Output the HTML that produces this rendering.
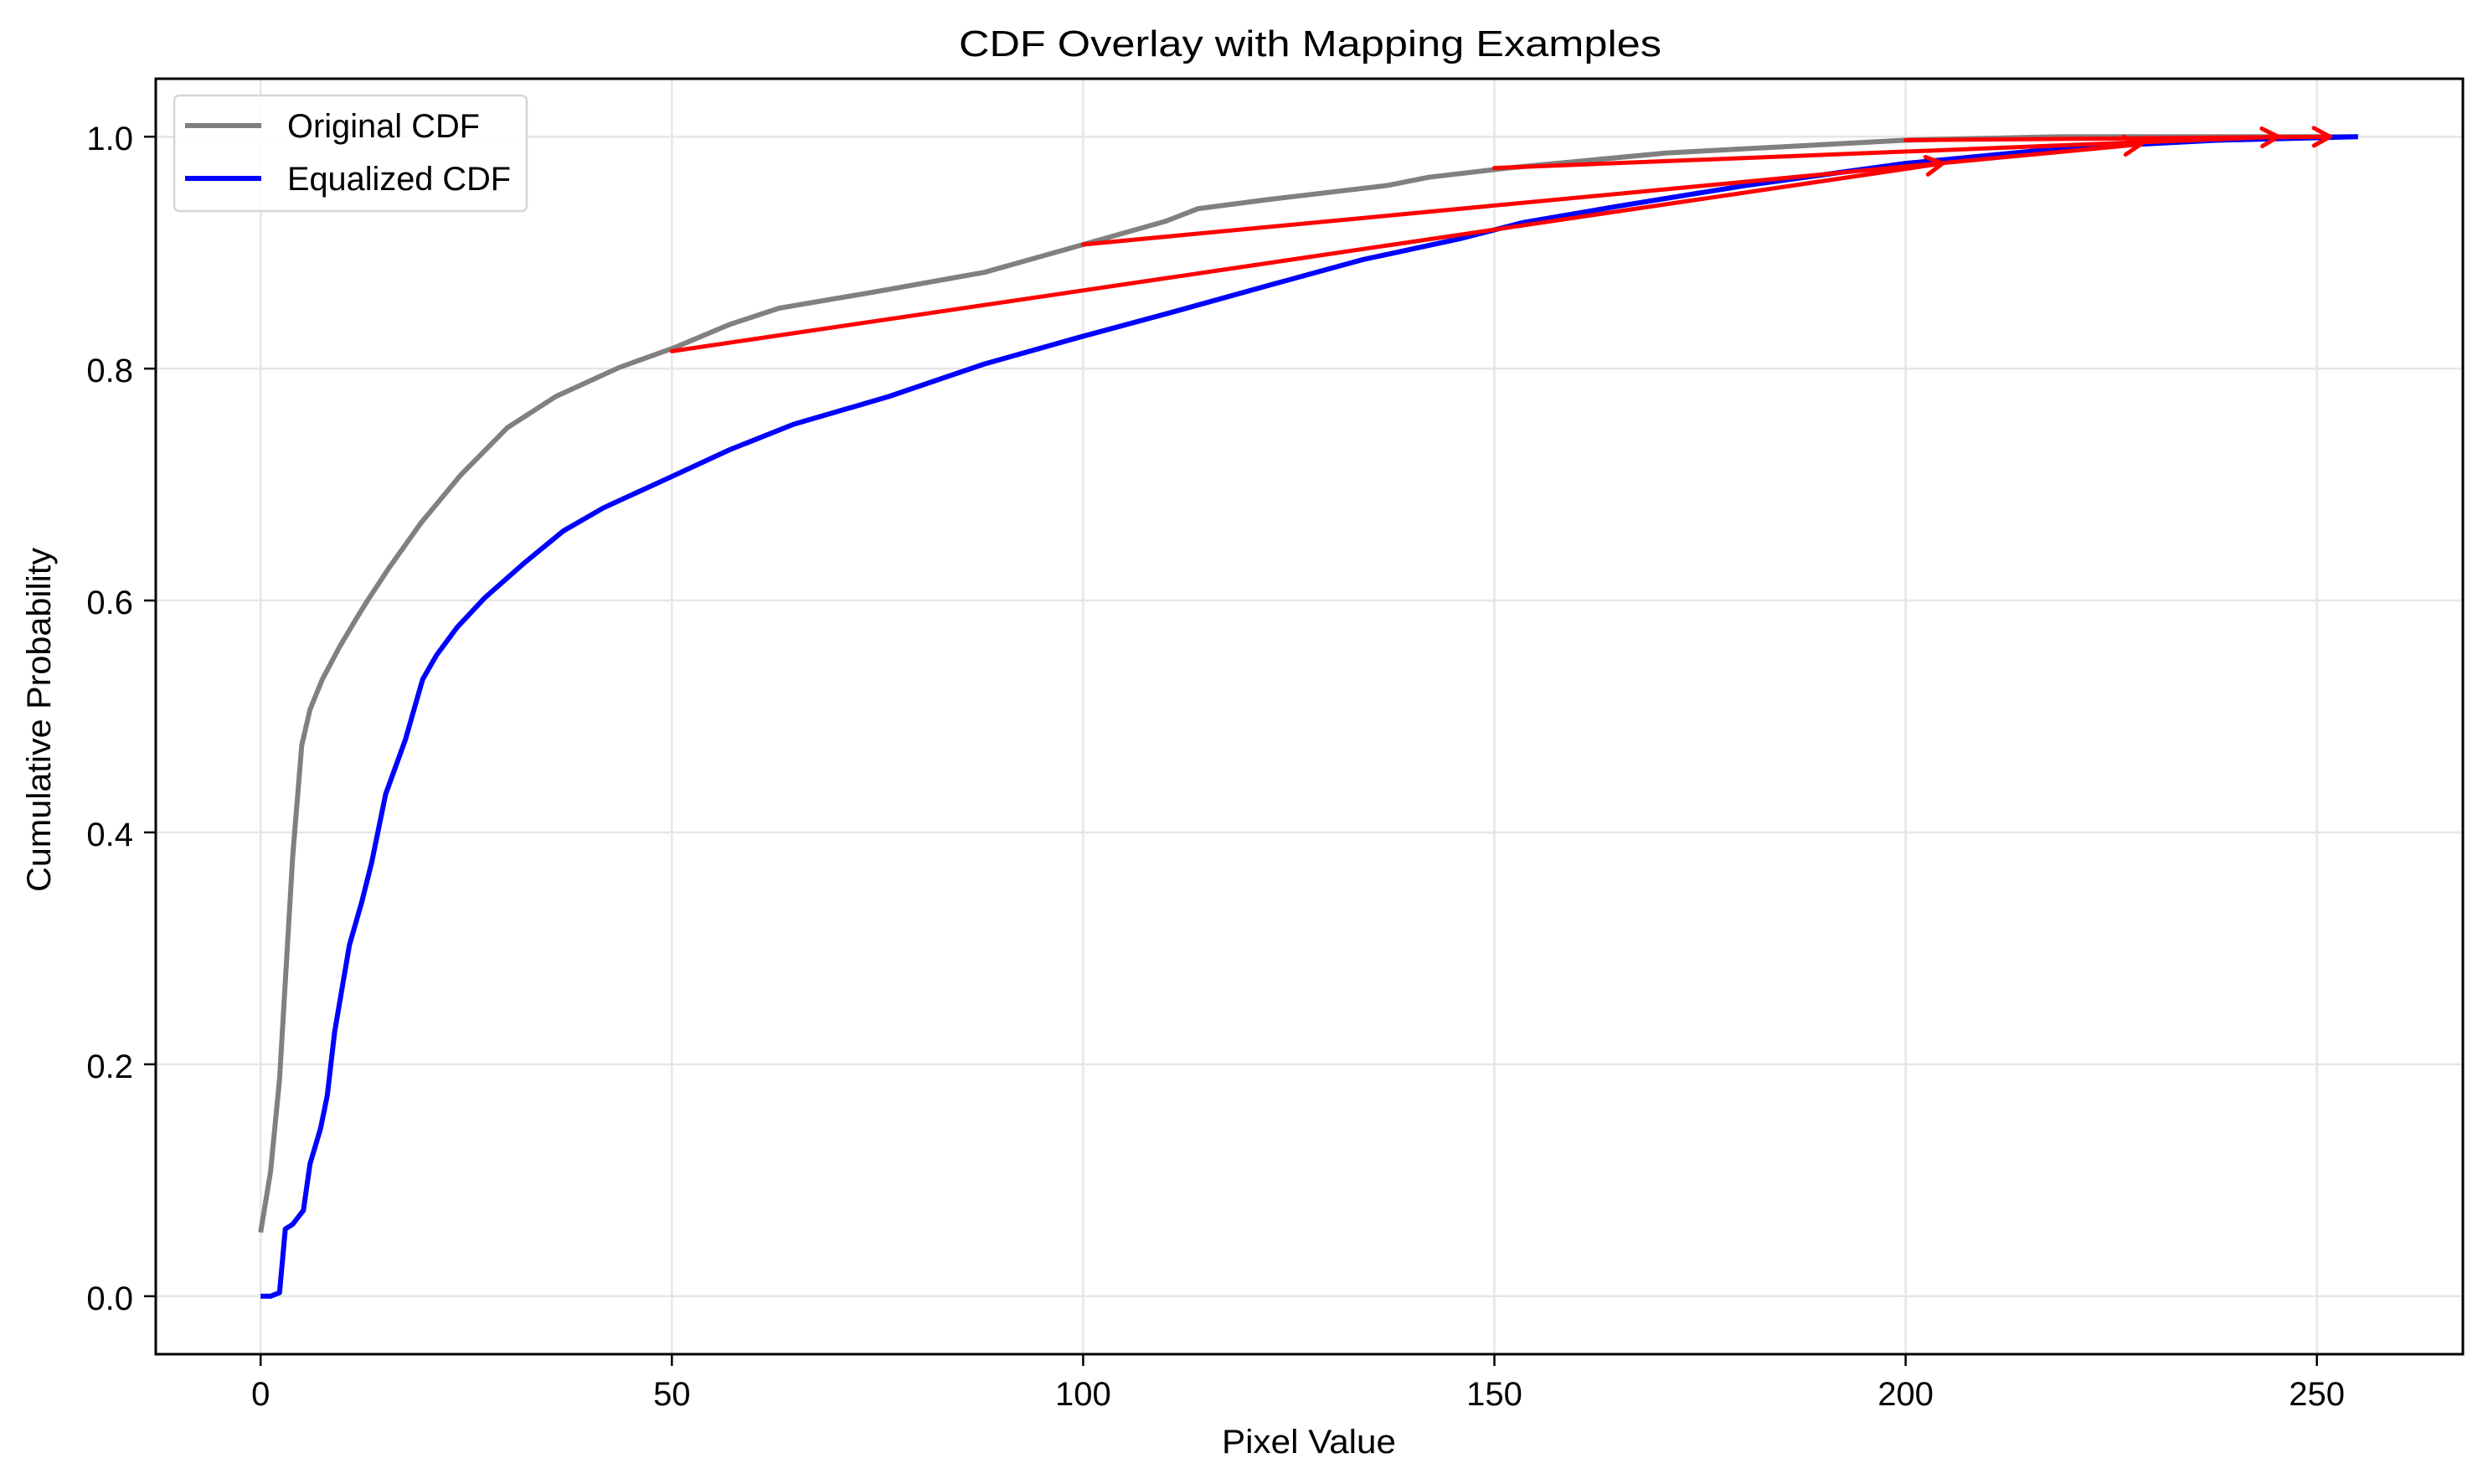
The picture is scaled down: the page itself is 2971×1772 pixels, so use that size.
<!DOCTYPE html>
<html><head><meta charset="utf-8"><style>
html,body{margin:0;padding:0;background:#fff;}
svg{display:block;font-family:"Liberation Sans","DejaVu Sans",sans-serif;}
</style></head><body>
<svg id="chart" width="2971" height="1772" viewBox="0 0 2971 1772" xmlns="http://www.w3.org/2000/svg">
<rect width="2971" height="1772" fill="#fff"/>
<g id="grid"></g>
<g id="series"></g>
<g id="ticks"></g>
<rect x="186" y="94" width="2755" height="1523" fill="none" stroke="#000" stroke-width="3"/>
<text x="1145" y="67" font-size="44" textLength="839" lengthAdjust="spacingAndGlyphs" fill="#000">CDF Overlay with Mapping Examples</text>
<text x="1459" y="1735" font-size="40" textLength="208" lengthAdjust="spacingAndGlyphs" fill="#000">Pixel Value</text>
<text transform="translate(60,1065) rotate(-90)" font-size="40" textLength="411" lengthAdjust="spacingAndGlyphs" fill="#000">Cumulative Probability</text>
<g>
<rect x="208" y="114" width="421" height="138" rx="6" fill="#fff" fill-opacity="0.85" stroke="#d6d6d6" stroke-width="2.5"/>
<line x1="221" y1="150" x2="312" y2="150" stroke="#808080" stroke-width="6"/>
<text x="343" y="164" font-size="40" textLength="230" lengthAdjust="spacingAndGlyphs" fill="#000">Original CDF</text>
<line x1="221" y1="213" x2="312" y2="213" stroke="#0000ff" stroke-width="6"/>
<text x="343" y="227" font-size="40" textLength="267" lengthAdjust="spacingAndGlyphs" fill="#000">Equalized CDF</text>
</g>
</svg>
<script>
const origX = [0,1.2,2.3,3.9,5,6,7.5,9.6,11.6,13,15.6,19.5,24.3,30,35.9,43.6,50.3,57,63,74.5,88,100,110,114,122.7,137,142,151.6,171,200,219,255];
const origY = [0.055,0.107,0.187,0.379,0.475,0.506,0.532,0.56,0.584,0.60,0.628,0.667,0.708,0.749,0.776,0.801,0.818,0.838,0.852,0.866,0.883,0.907,0.927,0.938,0.946,0.958,0.965,0.973,0.986,0.997,1.0,1.0];
const eqX = [0,1.2,2.3,3,3.9,5.2,6,7.3,8.1,9,10.8,12.3,13.5,15.2,17.6,19.7,21.4,23.9,27.2,32,36.8,41.7,49.4,57,64.8,76.4,88,99.5,111,122.7,134,145.8,153.5,165,180.6,200,219,238,255];
const eqY = [0,0,0.003,0.058,0.062,0.074,0.114,0.145,0.173,0.228,0.303,0.34,0.374,0.433,0.48,0.532,0.553,0.577,0.602,0.632,0.66,0.68,0.705,0.73,0.752,0.776,0.804,0.827,0.849,0.872,0.894,0.912,0.926,0.94,0.958,0.977,0.990,0.997,1.0];
const mapStartX = [50,100,150,200];
const mapStartY = [0.815,0.907,0.973,0.997];
const mapEndX = [204.5,228.6,245.3,251.6];
const mapEndY = [0.977,0.9935,1.0,1.0];
const xTicks = [0,50,100,150,200,250];
const yTicks = [0,0.2,0.4,0.6,0.8,1.0];
const yTickLabels = ["0.0","0.2","0.4","0.6","0.8","1.0"];

const NS = "http://www.w3.org/2000/svg";
const X0=186, X1=2941, Y0=94, Y1=1617, XMIN=-12.75, XMAX=267.75, YMIN=-0.05, YMAX=1.05;
function sx(v){return X0+(v-XMIN)/(XMAX-XMIN)*(X1-X0);}
function sy(v){return Y1-(v-YMIN)/(YMAX-YMIN)*(Y1-Y0);}
function mk(tag,attrs,parent){const e=document.createElementNS(NS,tag);for(const k in attrs)e.setAttribute(k,attrs[k]);parent.appendChild(e);return e;}
const grid=document.getElementById('grid'), ser=document.getElementById('series'), tk=document.getElementById('ticks');

xTicks.forEach(v=>{
  const g=mk('line',{x1:sx(v),x2:sx(v),y1:Y0,y2:Y1,stroke:'#e6e6e6','stroke-width':2.5},grid);
  
  
  const t=mk('line',{x1:sx(v),x2:sx(v),y1:Y1,y2:Y1+14,stroke:'#000','stroke-width':2.5},tk);
  
  
  const l=mk('text',{x:sx(v),y:Y1+61,'font-size':40,'text-anchor':'middle',fill:'#000'},tk);
  l.textContent=String(v);
  
  
});
yTicks.forEach((v,i)=>{
  const g=mk('line',{x1:X0,x2:X1,y1:sy(v),y2:sy(v),stroke:'#e6e6e6','stroke-width':2.5},grid);
  
  
  const t=mk('line',{x1:X0-14,x2:X0,y1:sy(v),y2:sy(v),stroke:'#000','stroke-width':2.5},tk);
  
  
  const l=mk('text',{x:X0-27,y:sy(v)+16,'font-size':40,'text-anchor':'end',fill:'#000'},tk);
  l.textContent=yTickLabels[i];
  
  
});

function pts(xs,ys){return xs.map((x,i)=>sx(x).toFixed(1)+','+sy(ys[i]).toFixed(1)).join(' ');}
const po=mk('polyline',{points:pts(origX,origY),fill:'none',stroke:'#808080','stroke-width':6,'stroke-linejoin':'round'},ser);


const pe=mk('polyline',{points:pts(eqX,eqY),fill:'none',stroke:'#0000ff','stroke-width':6,'stroke-linejoin':'round'},ser);



mapStartX.forEach((x,i)=>{
  const x1=sx(x), y1=sy(mapStartY[i]), x2=sx(mapEndX[i]), y2=sy(mapEndY[i]);
  const g=mk('g',{},ser);
  
  
  mk('line',{x1:x1,y1:y1,x2:x2,y2:y2,stroke:'#ff0000','stroke-width':5,'stroke-linecap':'round'},g);
  const ang=Math.atan2(y2-y1,x2-x1), L=22, a=0.5;
  const p1=[x2-L*Math.cos(ang-a),y2-L*Math.sin(ang-a)], p2=[x2-L*Math.cos(ang+a),y2-L*Math.sin(ang+a)];
  mk('polyline',{points:p1.join(',')+' '+x2+','+y2+' '+p2.join(','),fill:'none',stroke:'#ff0000','stroke-width':5,'stroke-linecap':'round','stroke-linejoin':'round'},g);
});
</script>
</body></html>
